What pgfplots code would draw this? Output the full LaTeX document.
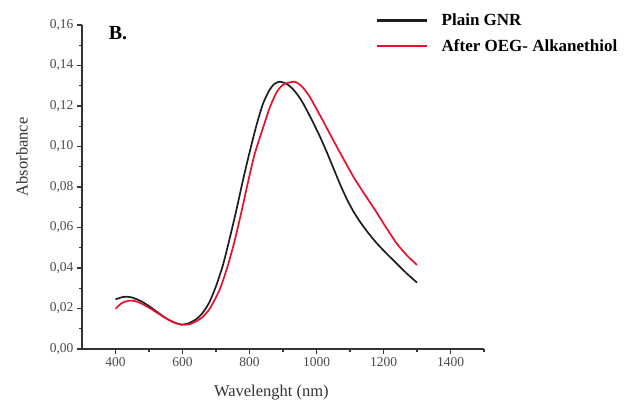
\documentclass[border=0pt]{standalone}
\usepackage{pgfplots}
\pgfplotsset{compat=1.18}
\usepackage{fontspec}
\setmainfont{Liberation Serif}
\definecolor{tickgray}{HTML}{4A4A4A}
\definecolor{axgray}{HTML}{333333}
\definecolor{redline}{HTML}{E8102A}
\definecolor{blkline}{HTML}{1E1E1E}
\begin{document}
\begin{tikzpicture}
\path[use as bounding box] (-82pt,-63pt) rectangle (548pt,349pt);
\begin{axis}[
  at={(0pt,0pt)}, anchor=south west,
  scale only axis, width=402pt, height=324pt,
  xmin=300, xmax=1500, ymin=0, ymax=0.16,
  axis x line*=bottom, axis y line*=left,
  axis line style={axgray, line width=1.4pt, -},
  xtick={400,600,...,1400},
  minor xtick={500,700,...,1500},
  ytick={0,0.02,...,0.161},
  minor ytick={0.01,0.03,...,0.155},
  tick align=outside,
  major tick length=5pt, minor tick length=3pt,
  tick style={axgray, line width=1.2pt},
  /pgf/number format/assume math mode=true,
  /pgf/number format/use comma,
  yticklabel style={/pgf/number format/fixed, /pgf/number format/fixed zerofill, /pgf/number format/precision=2},
  scaled y ticks=false,
  xticklabel style={/pgf/number format/1000 sep={}},
  ticklabel style={font=\fontsize{13.5}{15}\selectfont, text=tickgray},
  xlabel={Wavelenght (nm)},
  ylabel={Absorbance},
  label style={font=\fontsize{16.5}{19}\selectfont, text=axgray},
  xlabel style={at={(axis description cs:0.471,-0.133)}, anchor=center},
  ylabel style={at={(axis description cs:-0.149,0.593)}, anchor=center, rotate=0},
  legend style={at={(axis description cs:0.731,1.038)}, anchor=north west,
    draw=none, fill=none, inner sep=0pt, row sep=10pt,
    font=\bfseries\fontsize{17}{19}\selectfont,
    nodes={inner sep=1pt},
    /tikz/every odd column/.append style={column sep=12pt}},
  legend cell align=left,
  legend image code/.code={\draw[#1, line width=2.6pt] (0pt,0pt) -- (50pt,0pt);},
  clip=false,
]
\addplot[blkline, line width=1.7pt, smooth, tension=0.4] coordinates {
(400,0.0245) (420,0.0256) (435,0.0258) (450,0.0254) (475,0.0237) (500,0.0212)
(525,0.0182) (550,0.0153) (575,0.0131) (595,0.0121) (615,0.0125) (640,0.0146)
(660,0.0178) (680,0.0230) (700,0.0310) (720,0.0410) (740,0.0540) (760,0.0680)
(780,0.0830) (800,0.0970) (820,0.1100) (840,0.1210) (860,0.1280) (875,0.1310)
(891,0.1320) (910,0.1310) (930,0.1283) (951,0.1238) (970,0.1183) (990,0.1118)
(1010,0.1050) (1030,0.0975) (1050,0.0895) (1070,0.0815) (1090,0.0742)
(1110,0.0680) (1130,0.0628) (1155,0.0572) (1180,0.0522) (1210,0.0470)
(1240,0.0421) (1270,0.0372) (1300,0.0328)
};
\addlegendentry{Plain GNR}
\addplot[redline, line width=1.7pt, smooth, tension=0.4] coordinates {
(400,0.0199) (420,0.0228) (443,0.0239) (460,0.0236) (480,0.0222) (500,0.0204)
(525,0.0178) (550,0.0152) (575,0.0131) (597,0.0120) (620,0.0122) (640,0.0136)
(660,0.0158) (680,0.0196) (700,0.0255) (715,0.0310) (735,0.0410) (755,0.0530)
(775,0.0670) (795,0.0820) (815,0.0960) (840,0.1090) (860,0.1190) (880,0.1265)
(900,0.1305) (931,0.1320) (945,0.1312) (960,0.1290) (980,0.1245) (1000,0.1185)
(1020,0.1125) (1040,0.1062) (1055,0.1016) (1080,0.0940) (1110,0.0851)
(1140,0.0773) (1175,0.0686) (1205,0.0607) (1239,0.0522) (1270,0.0462) (1300,0.0415)
};
\addlegendentry{After OEG- Alkanethiol}
\node[font=\bfseries\fontsize{20}{22}\selectfont, anchor=center] at (axis description cs:0.0896,0.975) {B.};
\end{axis}
\end{tikzpicture}
\end{document}
